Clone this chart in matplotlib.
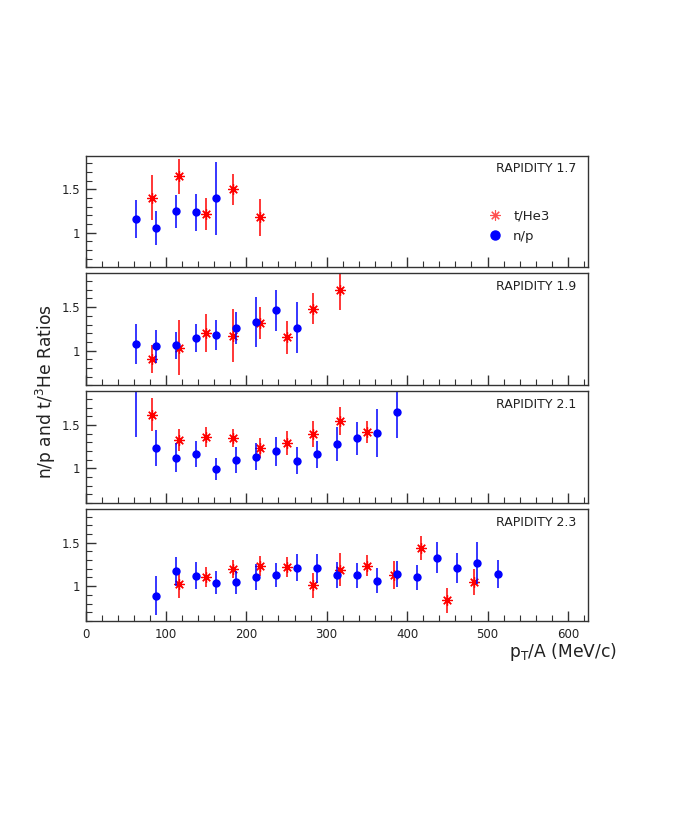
import numpy as np
import matplotlib.pyplot as plt
from matplotlib.lines import Line2D

plt.rcParams['font.family'] = ['DejaVu Sans']

# n/p ratios (blue circles) per rapidity bin
np_x_17 = [62.5, 87.5, 112.5, 137.5, 162.5]
np_y_17 = [1.158, 1.050, 1.246, 1.235, 1.396]
np_e_17 = [0.217, 0.196, 0.186, 0.213, 0.419]

np_x_19 = [62.5, 87.5, 112.5, 137.5, 162.5, 187.5, 212.5, 237.5, 262.5]
np_y_19 = [1.078, 1.050, 1.062, 1.140, 1.178, 1.264, 1.326, 1.465, 1.264]
np_e_19 = [0.231, 0.188, 0.154, 0.161, 0.173, 0.186, 0.286, 0.236, 0.293]

np_x_21 = [62.5, 87.5, 112.5, 137.5, 162.5, 187.5, 212.5, 237.5, 262.5,
           287.5, 312.5, 337.5, 362.5, 387.5]
np_y_21 = [2.00, 1.234, 1.125, 1.164, 0.992, 1.100, 1.133, 1.195, 1.090,
           1.160, 1.281, 1.348, 1.410, 1.645]
np_e_21 = [0.64, 0.209, 0.162, 0.150, 0.131, 0.148, 0.154, 0.170, 0.151,
           0.160, 0.193, 0.191, 0.275, 0.290]

np_x_23 = [87.5, 112.5, 137.5, 162.5, 187.5, 212.5, 237.5, 262.5, 287.5,
           312.5, 337.5, 362.5, 387.5, 412.5, 437.5, 462.5, 487.5, 512.5]
np_y_23 = [0.888, 1.169, 1.119, 1.042, 1.046, 1.108, 1.127, 1.215, 1.204,
           1.131, 1.123, 1.062, 1.138, 1.100, 1.327, 1.212, 1.265, 1.142]
np_e_23 = [0.224, 0.167, 0.154, 0.133, 0.131, 0.150, 0.142, 0.156, 0.162,
           0.148, 0.148, 0.143, 0.147, 0.148, 0.179, 0.175, 0.244, 0.164]

# t/He3 ratios (red stars)
th_x_17 = [83.3, 116.7, 150.0, 183.3, 216.7]
th_y_17 = [1.404, 1.650, 1.219, 1.500, 1.177]
th_e_17 = [0.256, 0.202, 0.187, 0.179, 0.209]

th_x_19 = [83.3, 116.7, 150.0, 183.3, 216.7, 250.0, 283.3, 316.7]
th_y_19 = [0.900, 1.035, 1.200, 1.170, 1.318, 1.151, 1.480, 1.698]
th_e_19 = [0.163, 0.314, 0.221, 0.305, 0.186, 0.188, 0.179, 0.233]

th_x_21 = [83.3, 116.7, 150.0, 183.3, 216.7, 250.0, 283.3, 316.7, 350.0]
th_y_21 = [1.617, 1.328, 1.363, 1.348, 1.234, 1.289, 1.398, 1.547, 1.418]
th_e_21 = [0.192, 0.125, 0.114, 0.106, 0.118, 0.139, 0.149, 0.160, 0.129]

th_x_23 = [116.7, 150.0, 183.3, 216.7, 250.0, 283.3, 316.7, 350.0, 383.3,
           416.7, 450.0, 483.3]
th_y_23 = [1.023, 1.104, 1.196, 1.231, 1.219, 1.012, 1.188, 1.238, 1.127,
           1.442, 0.835, 1.046]
th_e_23 = [0.158, 0.117, 0.100, 0.119, 0.114, 0.145, 0.189, 0.125, 0.165,
           0.137, 0.139, 0.148]

rapidities = ['1.7', '1.9', '2.1', '2.3']
np_sets = [(np_x_17, np_y_17, np_e_17), (np_x_19, np_y_19, np_e_19),
           (np_x_21, np_y_21, np_e_21), (np_x_23, np_y_23, np_e_23)]
th_sets = [(th_x_17, th_y_17, th_e_17), (th_x_19, th_y_19, th_e_19),
           (th_x_21, th_y_21, th_e_21), (th_x_23, th_y_23, th_e_23)]

W, H = 692, 830
fig = plt.figure(figsize=(W / 100, H / 100), dpi=100)

left_px, right_px = 85.5, 588
star = (8, 2, 0)
axes = []
for i in range(4):
    top_px = 155.5 + i * 117.8
    bot_px = top_px + 112
    ax = fig.add_axes([left_px / W, 1 - bot_px / H,
                       (right_px - left_px) / W, (bot_px - top_px) / H])
    axes.append(ax)

    x, y, e = th_sets[i]
    ax.errorbar(x, y, yerr=e, fmt='none', ecolor='red', elinewidth=1.1, capsize=0)
    ax.plot(x, y, linestyle='none', marker=star, ms=7.5, mew=0.9, color='red')
    x, y, e = np_sets[i]
    ax.errorbar(x, y, yerr=e, fmt='o', color='blue', ms=5, elinewidth=1.1,
                capsize=0)

    ax.set_xlim(0, 625)
    ax.set_ylim(0.6, 1.89)
    ax.set_xticks(np.arange(0, 601, 100))
    ax.set_xticks(np.arange(0, 621, 20), minor=True)
    ax.set_yticks([1, 1.5])
    ax.set_yticks(np.arange(0.6, 1.9, 0.1), minor=True)
    ax.set_yticklabels(['1', '1.5'])
    ax.tick_params(which='both', direction='in', top=False, right=False,
                   color='#333333', labelsize=8.5, labelcolor='#222222')
    ax.tick_params(which='major', length=7, width=1)
    ax.tick_params(which='minor', length=4, width=0.8)
    ax.tick_params(axis='x', pad=5)
    for s in ax.spines.values():
        s.set_color('#333333')
        s.set_linewidth(1)
    if i < 3:
        ax.set_xticklabels([])
    ax.text(0.976, 0.88, 'RAPIDITY ' + rapidities[i], transform=ax.transAxes,
            ha='right', va='center', fontsize=9, color='#222222')

# legend in the first panel
h_star = Line2D([], [], linestyle='none', marker=star, ms=7.5, mew=0.8, color='#ff5050')
h_circ = Line2D([], [], linestyle='none', marker='o', ms=6.5, color='blue')
axes[0].legend([h_star, h_circ], ['t/He3', 'n/p'], loc='center left',
               bbox_to_anchor=(0.775, 0.37), frameon=False, handlelength=1.2,
               handletextpad=0.8, labelspacing=0.55, fontsize=9.5,
               labelcolor='#222222')

fig.text(46 / W, 1 - 392 / H, r'n/p and t/$^3$He Ratios', rotation=90,
         ha='center', va='center', fontsize=12.3, color='#222222')
fig.text(617 / W, 1 - 652 / H, r'p$_\mathregular{T}$/A (MeV/c)',
         ha='right', va='center', fontsize=12.3, color='#222222')

fig.savefig('out.png', dpi=100)
